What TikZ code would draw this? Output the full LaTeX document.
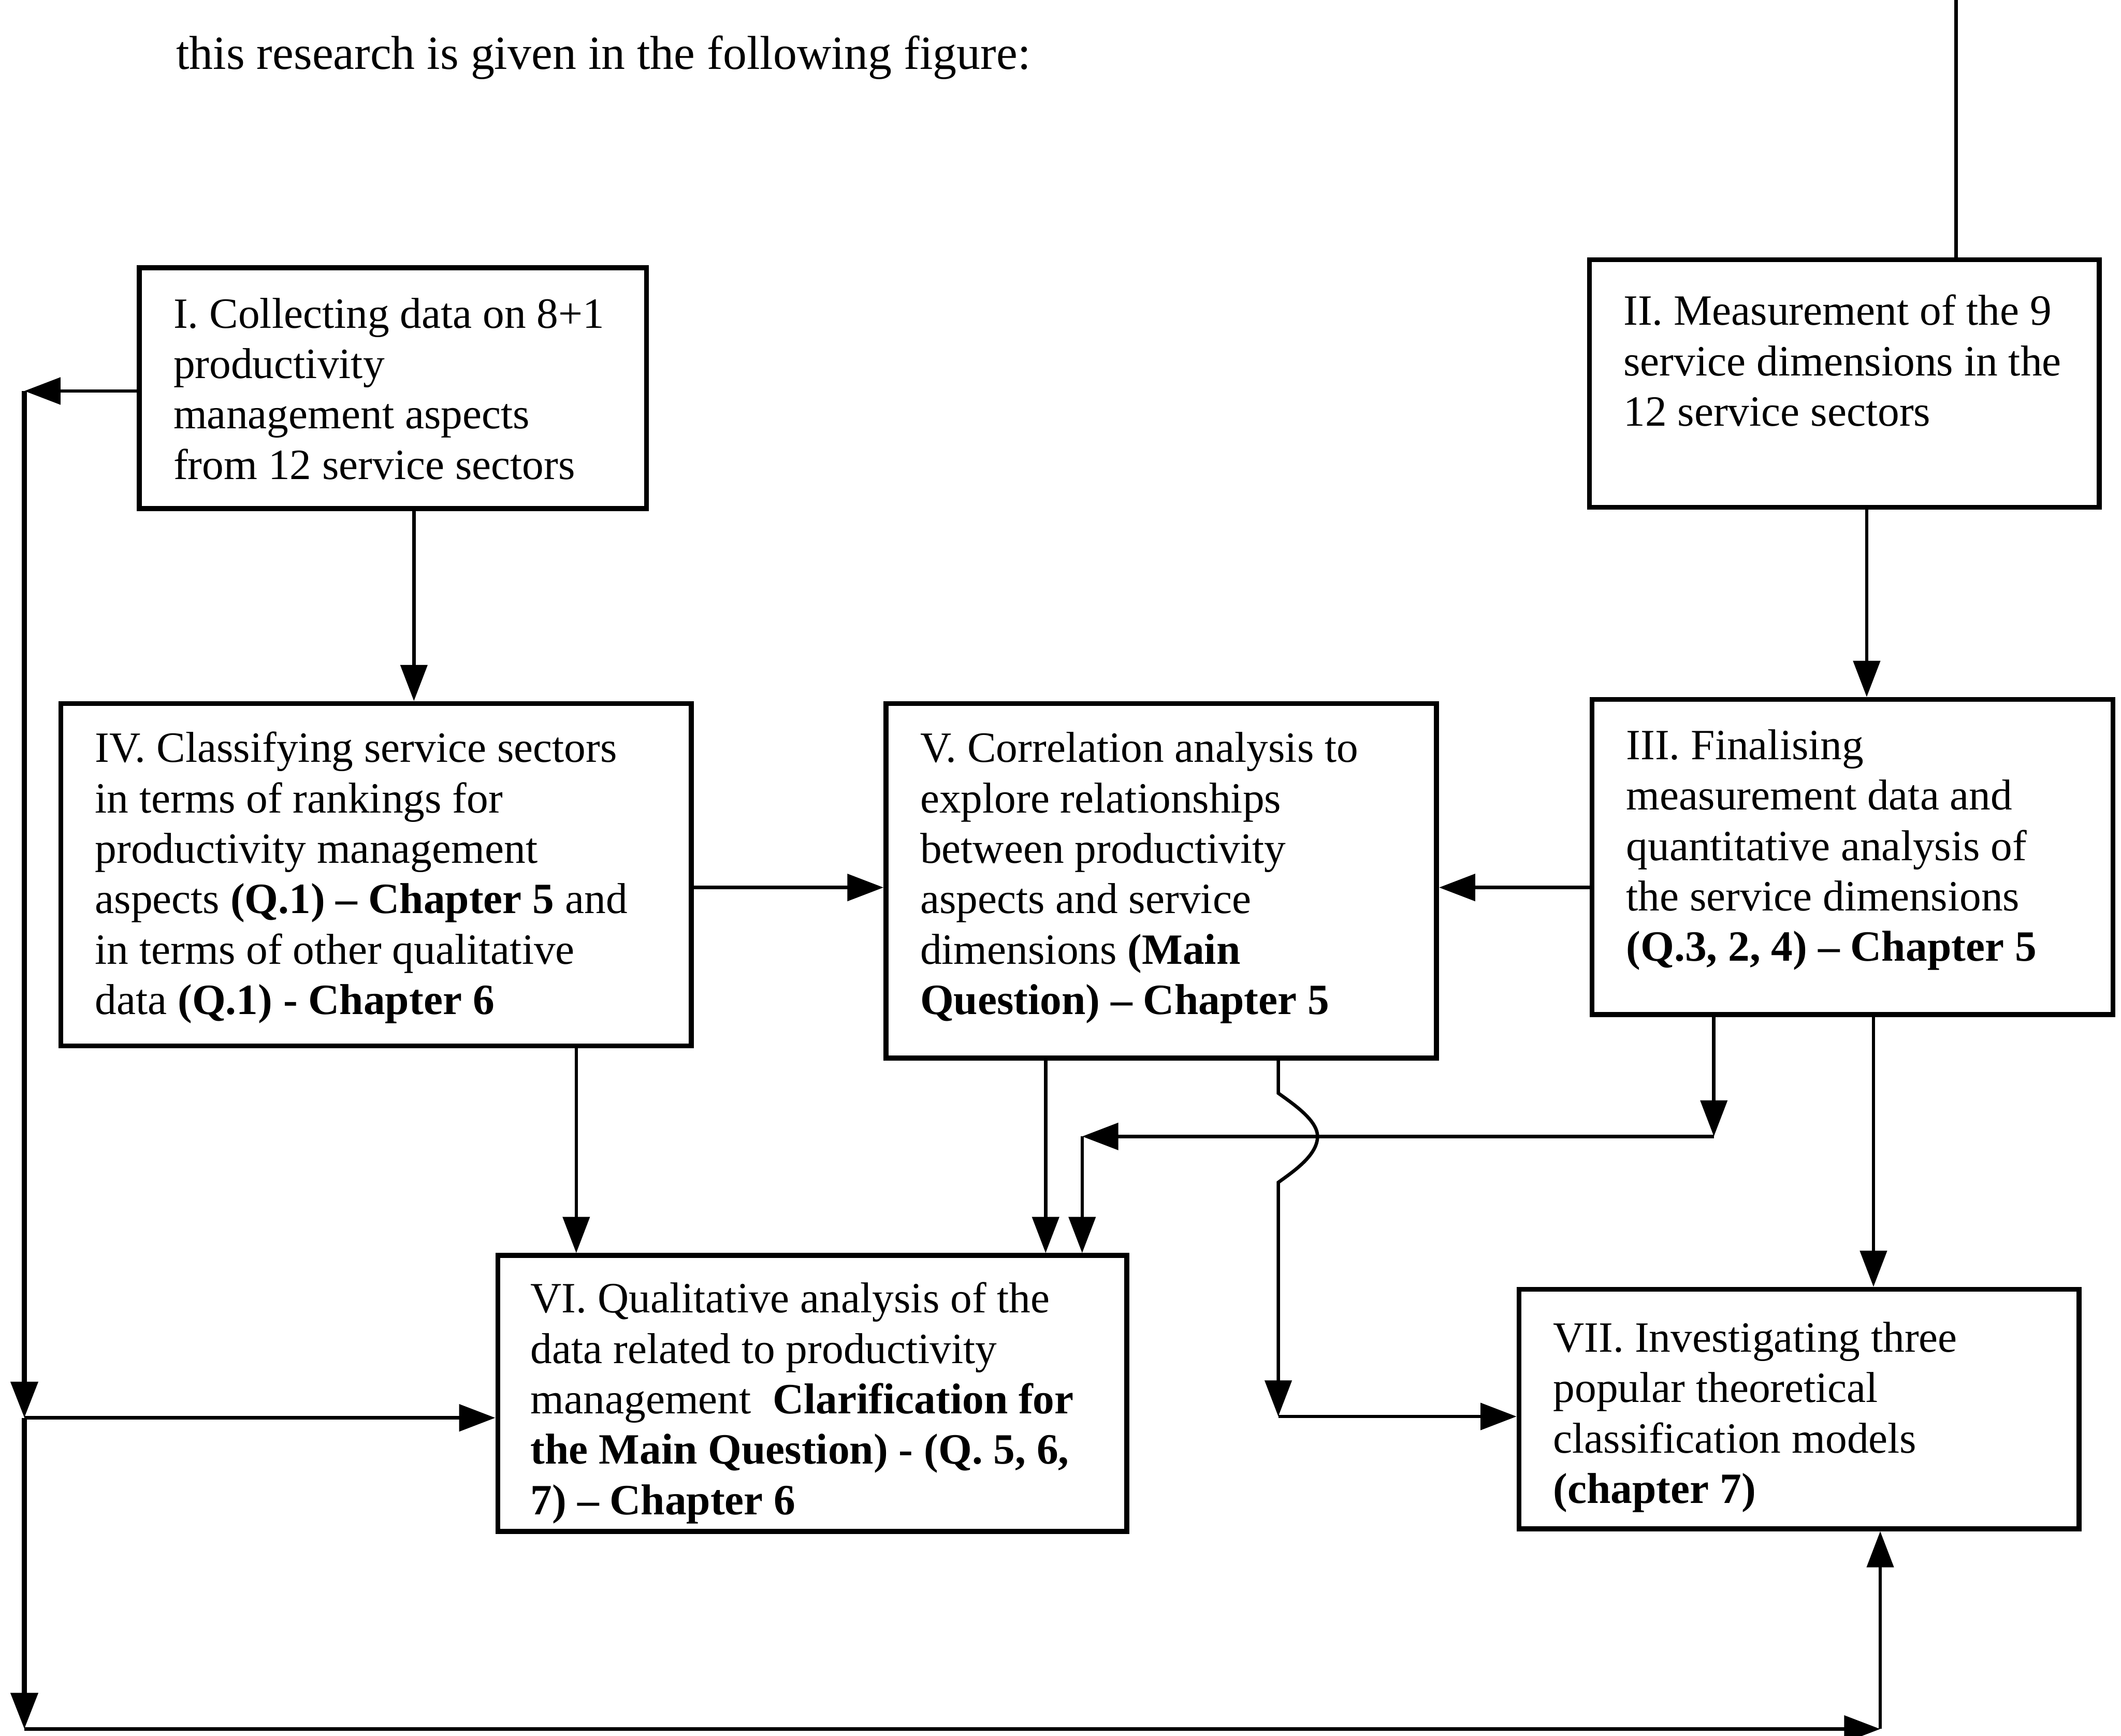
\documentclass[tikz,border=0pt]{standalone}
\usepackage{fontspec}
\setmainfont{Liberation Serif}
\usetikzlibrary{arrows.meta,fit}
\begin{document}
\begin{tikzpicture}[x=0.025cm,y=-0.025cm,
  box/.style={draw,line width=2.6pt,inner sep=0pt,rectangle},
  txt/.style={anchor=north west,inner sep=0pt,align=left,font=\fontsize{22.7pt}{26.5pt}\selectfont},
  link/.style={line width=1.8pt},
  rail/.style={line width=2.6pt},
  tip/.style={-{Triangle[length=19pt,width=14pt]}},
  arr/.style={link,tip},
]
\useasboundingbox (0,0) rectangle (1568,1283);

% heading line above the figure
\node[anchor=base west,inner sep=0pt,font=\fontsize{25pt}{30pt}\selectfont] (head) at (130,51)
  {this research is given in the following figure:};

% boxes
\node[box,fit={(103,198) (478,376)}] (I) {};
\node[box,fit={(1175,192) (1552,375)}] (II) {};
\node[box,fit={(45,520) (511,773)}] (IV) {};
\node[box,fit={(655,520) (1062,782)}] (V) {};
\node[box,fit={(1177,517) (1562,750)}] (III) {};
\node[box,fit={(368,928) (833,1132)}] (VI) {};
\node[box,fit={(1123,953) (1537,1130)}] (VII) {};

% box texts
\node[txt] (tI) at (128,216) {\strut I. Collecting data on 8+1\\productivity\\management aspects\\from 12 service sectors};
\node[txt] (tII) at (1200,214) {\strut II. Measurement of the 9\\service dimensions in the\\12 service sectors};
\node[txt] (tIV) at (70,537) {\strut IV. Classifying service sectors\\in terms of rankings for\\productivity management\\aspects \textbf{(Q.1) – Chapter 5} and\\in terms of other qualitative\\data \textbf{(Q.1) - Chapter 6}};
\node[txt] (tV) at (680,537) {\strut V. Correlation analysis to\\explore relationships\\between productivity\\aspects and service\\dimensions \textbf{(Main}\\\textbf{Question) – Chapter 5}};
\node[txt] (tIII) at (1202,535) {\strut III. Finalising\\measurement data and\\quantitative analysis of\\the service dimensions\\\textbf{(Q.3, 2, 4) – Chapter 5}};
\node[txt] (tVI) at (392,944) {\strut VI. Qualitative analysis of the\\data related to productivity\\management~~\textbf{Clarification for}\\\textbf{the Main Question) - (Q. 5, 6,}\\\textbf{7) – Chapter 6}};
\node[txt] (tVII) at (1148,973) {\strut VII. Investigating three\\popular theoretical\\classification models\\\textbf{(chapter 7)}};

% lane positions
\coordinate (xa) at (306,0);
\coordinate (xb) at (1380,0);
\coordinate (xc) at (426,0);
\coordinate (xd) at (773,0);
\coordinate (xe) at (1267,0);
\coordinate (xf) at (800,0);
\coordinate (xg) at (945,0);
\coordinate (xh) at (1385,0);
\coordinate (xm) at (1390,0);
\coordinate (top) at (1446,0);
\coordinate (ya) at (0,656);
\coordinate (yi) at (0,289);
\coordinate (lt) at (18,289);
\coordinate (lm) at (18,1048);
\coordinate (lb) at (18,1278);
\coordinate (br) at (1390,1278);
\coordinate (jr) at (1267,840);
\coordinate (jl) at (800,840);
\coordinate (h1) at (945,808);
\coordinate (hx) at (974,840);
\coordinate (h2) at (945,874);
\coordinate (hc) at (945,1047);

% incoming line at the top
\draw[link] (top) -- (II.north -| top);

% straight flows
\draw[arr] (I.south -| xa) -- (IV.north -| xa);
\draw[arr] (II.south -| xb) -- (III.north -| xb);
\draw[arr] (IV.east |- ya) -- (V.west |- ya);
\draw[arr] (III.west |- ya) -- (V.east |- ya);
\draw[arr] (IV.south -| xc) -- (VI.north -| xc);
\draw[arr] (V.south -| xd) -- (VI.north -| xd);
\draw[arr] (III.south -| xh) -- (VII.north -| xh);

% III down to the cross line and on to VI
\draw[arr] (III.south -| xe) -- (jr);
\draw[arr] (jr) -- (jl);
\draw[arr] (jl) -- (VI.north -| xf);

% V down to VII, hopping over the cross line
\draw[arr] (V.south -| xg) -- (h1) .. controls (956,816) and (974,828) .. (hx)
  .. controls (974,854) and (956,866) .. (h2) -- (hc);
\draw[arr] (hc) -- (VII.west |- hc);

% left rail from I down to VI and VII
\draw[link,tip] (I.west |- yi) -- (lt);
\draw[rail,tip] (lt) -- (lm);
\draw[rail,tip] (lm) -- (lb);
\draw[arr] (lm) -- (VI.west |- lm);
\draw[arr] (lb) -- (br);
\draw[arr] (br) -- (VII.south -| br);
\end{tikzpicture}
\end{document}
